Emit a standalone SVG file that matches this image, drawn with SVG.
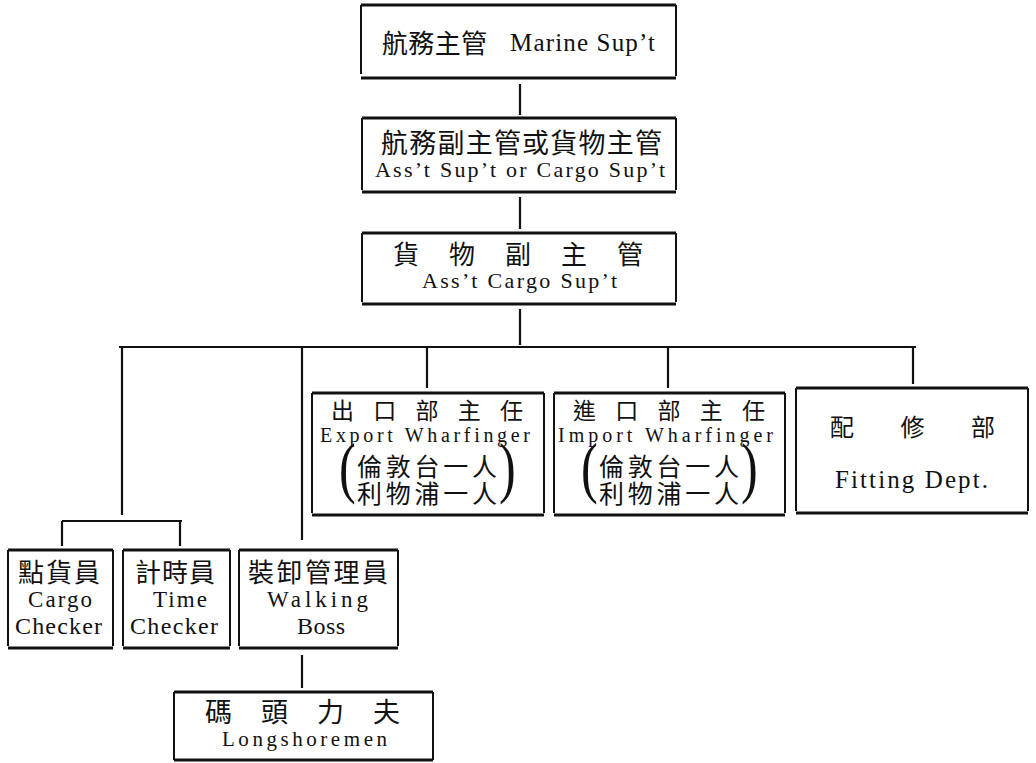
<svg xmlns="http://www.w3.org/2000/svg" width="1036" height="763" viewBox="0 0 1036 763">
<style>
.h{stroke:#111;stroke-width:3;fill:none}
.v{stroke:#111;stroke-width:2;fill:none}
.c{stroke:#111;stroke-width:2.2;fill:none}
.zh{font-family:"Noto Sans CJK TC","Noto Sans CJK SC",sans-serif;fill:#111}
.en{font-family:"Liberation Serif","Times New Roman",serif;fill:#111}
.p{font-family:"Liberation Serif",serif;fill:#111;font-size:67px}
</style>
<rect width="1036" height="763" fill="#fff"/>
<g id="connectors">
<path class="c" d="M520 84V115M520 197V229M520 309V345M119 347H916M122 347V515M62 521H182M62 521V546M180 521V546M302 347V540M427 347V388M668 347V388M913 347V384M302 655V688"/>
</g>
<g id="marine">
<path class="h" d="M361 5H676M361 78H676"/><path class="v" d="M361 5V74M676 5V76"/>
<text class="zh" x="382" y="53" font-size="26" textLength="105" lengthAdjust="spacing">航務主管</text>
<text class="en" x="510" y="51" font-size="25" textLength="145" lengthAdjust="spacing">Marine Sup’t</text>
</g>
<g id="asst">
<path class="h" d="M362 118H676M362 192H676"/><path class="v" d="M362 118V190M676 118V190"/>
<text class="zh" x="381" y="153" font-size="27" textLength="281" lengthAdjust="spacing">航務副主管或貨物主管</text>
<text class="en" x="375" y="177" font-size="22" textLength="290" lengthAdjust="spacing">Ass’t Sup’t or Cargo Sup’t</text>
</g>
<g id="asstcargo">
<path class="h" d="M362 233H676M362 304H676"/><path class="v" d="M362 233V302M676 233V302"/>
<text class="zh" x="393" y="264" font-size="26" textLength="250" lengthAdjust="spacing">貨物副主管</text>
<text class="en" x="422" y="288" font-size="22" textLength="195" lengthAdjust="spacing">Ass’t Cargo Sup’t</text>
</g>
<g id="export">
<path class="h" d="M312 393H544M312 515H544"/><path class="v" d="M312 393V513M544 393V513"/>
<text class="zh" x="331" y="419" font-size="23" textLength="192" lengthAdjust="spacing">出口部主任</text>
<text class="en" x="320" y="442" font-size="20" textLength="210" lengthAdjust="spacing">Export Wharfinger</text>
<text class="p" transform="translate(339 490) scale(0.75 1)">(</text>
<text class="zh" x="357" y="476" font-size="25" textLength="140" lengthAdjust="spacing">倫敦台一人</text>
<text class="zh" x="357" y="503" font-size="25" textLength="140" lengthAdjust="spacing">利物浦一人</text>
<text class="p" transform="translate(499 490) scale(0.75 1)">)</text>
</g>
<g id="import">
<path class="h" d="M554 393H785M554 515H785"/><path class="v" d="M554 393V513M785 393V513"/>
<text class="zh" x="573" y="419" font-size="23" textLength="192" lengthAdjust="spacing">進口部主任</text>
<text class="en" x="558" y="442" font-size="20" textLength="215" lengthAdjust="spacing">Import Wharfinger</text>
<text class="p" transform="translate(581 490) scale(0.75 1)">(</text>
<text class="zh" x="599" y="476" font-size="25" textLength="140" lengthAdjust="spacing">倫敦台一人</text>
<text class="zh" x="599" y="503" font-size="25" textLength="140" lengthAdjust="spacing">利物浦一人</text>
<text class="p" transform="translate(741 490) scale(0.75 1)">)</text>
</g>
<g id="fitting">
<path class="h" d="M796 388H1028M796 513H1028"/><path class="v" d="M796 388V511M1028 388V511"/>
<text class="zh" x="830" y="436" font-size="24" textLength="165" lengthAdjust="spacing">配修部</text>
<text class="en" x="835" y="488" font-size="25" textLength="153" lengthAdjust="spacing">Fitting Dept.</text>
</g>
<g id="cargochecker">
<path class="h" d="M8 550H113M8 648H113"/><path class="v" d="M8 550V646M113 550V646"/>
<text class="zh" x="18" y="582" font-size="26" textLength="82" lengthAdjust="spacing">點貨員</text>
<text class="en" x="28" y="607" font-size="23" textLength="64" lengthAdjust="spacing">Cargo</text>
<text class="en" x="15" y="634" font-size="24" textLength="87" lengthAdjust="spacing">Checker</text>
</g>
<g id="timechecker">
<path class="h" d="M123 550H230M123 648H230"/><path class="v" d="M123 550V646M230 550V646"/>
<text class="zh" x="135" y="582" font-size="26" textLength="80" lengthAdjust="spacing">計時員</text>
<text class="en" x="153" y="607" font-size="23" textLength="54" lengthAdjust="spacing">Time</text>
<text class="en" x="130" y="634" font-size="24" textLength="88" lengthAdjust="spacing">Checker</text>
</g>
<g id="walkingboss">
<path class="h" d="M239 550H398M239 648H398"/><path class="v" d="M239 550V646M398 550V646"/>
<text class="zh" x="248" y="582" font-size="26" textLength="140" lengthAdjust="spacing">裝卸管理員</text>
<text class="en" x="267" y="607" font-size="23" textLength="101" lengthAdjust="spacing">Walking</text>
<text class="en" x="297" y="634" font-size="24" textLength="48" lengthAdjust="spacing">Boss</text>
</g>
<g id="longshoremen">
<path class="h" d="M174 692H433M174 760H433"/><path class="v" d="M174 692V760M433 692V760"/>
<text class="zh" x="205" y="722" font-size="27" textLength="195" lengthAdjust="spacing">碼頭力夫</text>
<text class="en" x="222" y="746" font-size="21" textLength="165" lengthAdjust="spacing">Longshoremen</text>
</g>
</svg>
